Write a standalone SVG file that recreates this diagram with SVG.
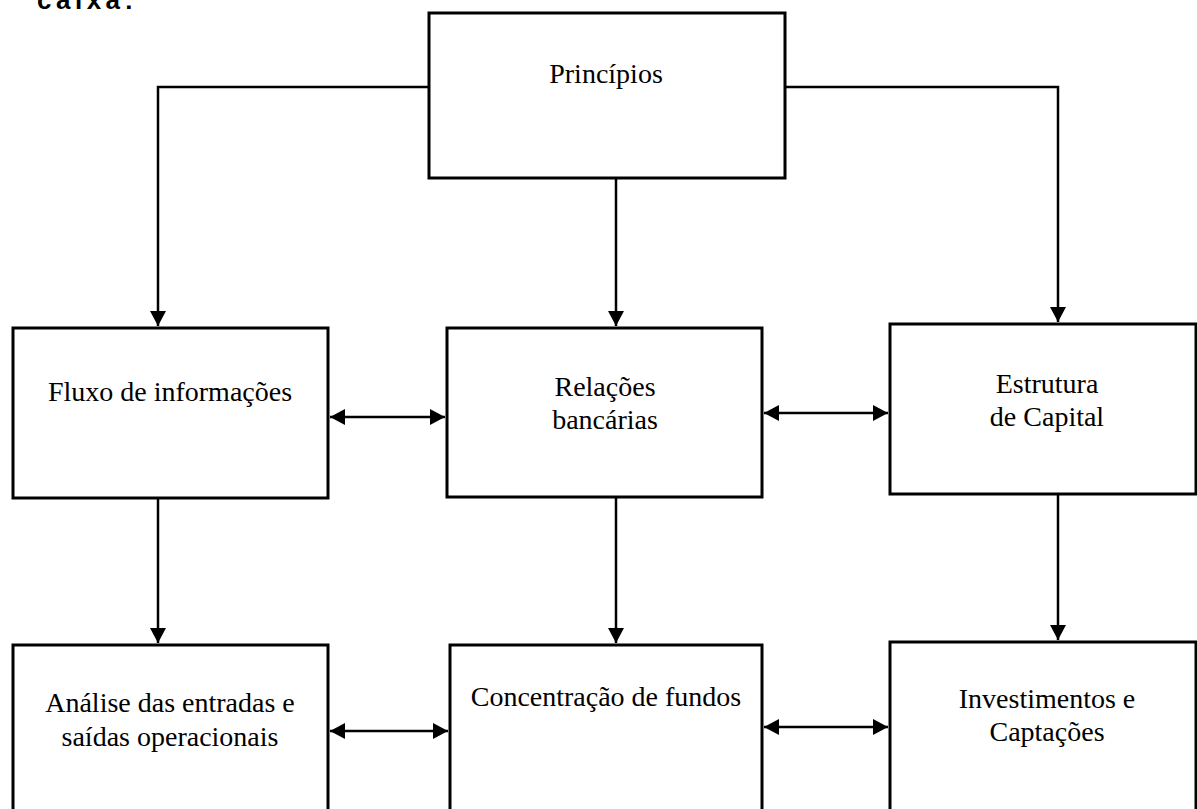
<svg xmlns="http://www.w3.org/2000/svg" width="1197" height="809" viewBox="0 0 1197 809">
  <defs>
    <marker id="ah" markerWidth="16" markerHeight="16" refX="15" refY="8" orient="auto-start-reverse" markerUnits="userSpaceOnUse">
      <path d="M0,0 L15,8 L0,16 Z" fill="#000"/>
    </marker>
    <style>
      .box { fill: #fff; stroke: #000; stroke-width: 3; }
      .lbl { font-family: "Liberation Serif", "Times New Roman", serif; font-size: 28px; fill: #000; text-anchor: middle; }
      .con { fill: none; stroke: #000; stroke-width: 2.5; }
      .hdr { font-family: "Liberation Sans", Arial, sans-serif; font-weight: bold; font-size: 26px; letter-spacing: 4.5px; fill: #000; }
    </style>
  </defs>
  <rect width="1197" height="809" fill="#fff"/>
  <text class="hdr" x="37" y="9">caixa:</text>

  <g id="connectors">
    <path class="con" d="M429,87 H158 V326" marker-end="url(#ah)"/>
    <path class="con" d="M785,87 H1058 V322" marker-end="url(#ah)"/>
    <path class="con" d="M616,178 V326" marker-end="url(#ah)"/>
    <path class="con" d="M330,417 H445" marker-start="url(#ah)" marker-end="url(#ah)"/>
    <path class="con" d="M764,413 H888" marker-start="url(#ah)" marker-end="url(#ah)"/>
    <path class="con" d="M158,498 V643" marker-end="url(#ah)"/>
    <path class="con" d="M616,497 V643" marker-end="url(#ah)"/>
    <path class="con" d="M1058,494 V640" marker-end="url(#ah)"/>
    <path class="con" d="M330,731 H448" marker-start="url(#ah)" marker-end="url(#ah)"/>
    <path class="con" d="M764,727 H888" marker-start="url(#ah)" marker-end="url(#ah)"/>
  </g>

  <g id="principios">
    <rect class="box" x="429" y="13" width="356" height="165"/>
    <text class="lbl" x="606" y="83">Princípios</text>
  </g>
  <g id="fluxo">
    <rect class="box" x="13" y="328" width="315" height="170"/>
    <text class="lbl" x="170" y="401">Fluxo de informações</text>
  </g>
  <g id="relacoes">
    <rect class="box" x="447" y="328" width="315" height="169"/>
    <text class="lbl" x="605" y="396">Relações</text>
    <text class="lbl" x="605" y="429">bancárias</text>
  </g>
  <g id="estrutura">
    <rect class="box" x="890" y="324" width="306" height="170"/>
    <text class="lbl" x="1047" y="393">Estrutura</text>
    <text class="lbl" x="1047" y="426">de Capital</text>
  </g>
  <g id="analise">
    <rect class="box" x="13" y="645" width="315" height="170"/>
    <text class="lbl" x="170" y="712">Análise das entradas e</text>
    <text class="lbl" x="170" y="746">saídas operacionais</text>
  </g>
  <g id="concentracao">
    <rect class="box" x="450" y="645" width="312" height="170"/>
    <text class="lbl" x="606" y="706">Concentração de fundos</text>
  </g>
  <g id="investimentos">
    <rect class="box" x="890" y="642" width="306" height="170"/>
    <text class="lbl" x="1047" y="708">Investimentos e</text>
    <text class="lbl" x="1047" y="741">Captações</text>
  </g>
</svg>
